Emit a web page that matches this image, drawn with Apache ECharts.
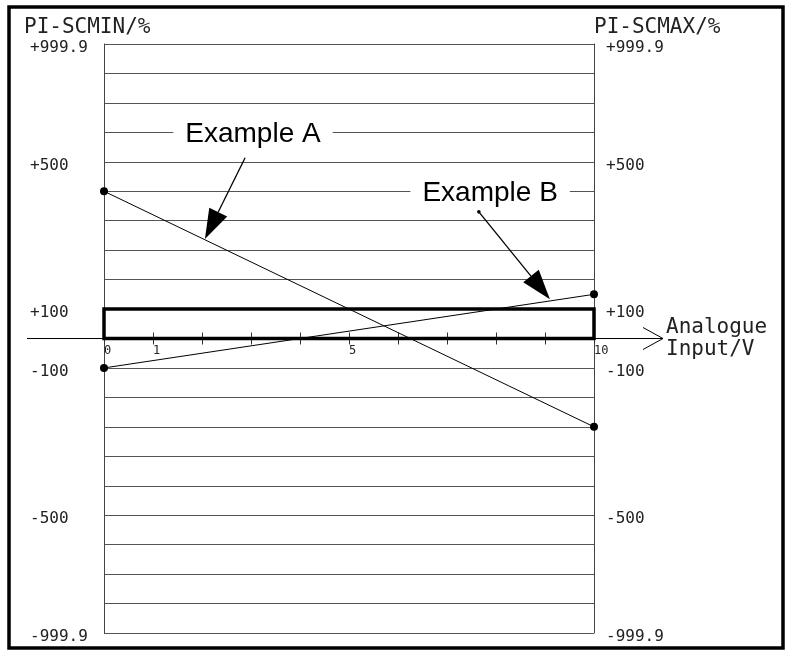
<!DOCTYPE html>
<html><head><meta charset="utf-8">
<script src="https://cdn.jsdelivr.net/npm/echarts@6/dist/echarts.min.js"></script>
<style>html,body{margin:0;padding:0;background:#fff}#c{width:789px;height:660px}</style>
</head><body><div id="c"></div>
<script>
// ---- data ----
const xMin = 0, xMax = 10;                 // Analogue Input / V
const levelMin = -10, levelMax = 10;       // schematic scale levels
const yTickLabels = {'10':'+999.9','6':'+500','1':'+100','-1':'-100','-6':'-500','-10':'-999.9'};
const xTickLabels = {'0':'0','1':'1','5':'5','10':'10'};
const exampleA = [[0, 5], [10, -3]];
const exampleB = [[0, -1], [10, 1.5]];
const bandRect = [[0, 0, 10, 1]];
const annotNames = ['Example A', 'Example B'];
const annotAnchors = [[3.04, 7], [7.88, 5]];
const arrowA = [2.88, 6.14, 2.06, 3.38];   // tail x,y -> head x,y
const arrowB = [7.65, 4.30, 9.10, 1.33];

const CAD = "'DejaVu Sans Mono', monospace";
const chart = echarts.init(document.getElementById('c'), null, {renderer:'canvas'});

function renderArrow(params, api){
  const t = api.coord([api.value(0), api.value(1)]);
  const h = api.coord([api.value(2), api.value(3)]);
  const dx = h[0]-t[0], dy = h[1]-t[1], L = Math.hypot(dx, dy);
  const ux = dx/L, uy = dy/L, px = -uy, py = ux;
  const hl = 30, hw = 10;
  const bx = h[0]-ux*hl, by = h[1]-uy*hl;
  const ch = [
    {type:'line', shape:{x1:t[0], y1:t[1], x2:bx, y2:by}, style:{stroke:'#000', lineWidth:1.3}},
    {type:'polygon', shape:{points:[[h[0],h[1]],[bx+px*hw,by+py*hw],[bx-px*hw,by-py*hw]]}, style:{fill:'#000'}}
  ];
  if (params.dataIndex === 1) ch.push({type:'circle', shape:{cx:t[0], cy:t[1], r:1.8}, style:{fill:'#000'}});
  return {type:'group', children: ch};
}

const yLabelStyle = {fontFamily:CAD, fontSize:16, color:'#222', align:'left', verticalAlign:'top', lineHeight:8,
  showMinLabel:true, showMaxLabel:true, formatter: v => yTickLabels[String(v)] || ''};

const option = {
  animation: false,
  backgroundColor: '#fff',
  title: [
    {text:'PI-SCMIN/%', left:19, top:12, textStyle:{fontFamily:CAD, fontSize:21, fontWeight:'normal', color:'#222'}},
    {text:'PI-SCMAX/%', left:589, top:12, textStyle:{fontFamily:CAD, fontSize:21, fontWeight:'normal', color:'#222'}}
  ],
  grid: {left:104, right:195, top:44, bottom:27, containLabel:false, outerBoundsMode:'none'},
  xAxis: [
    {type:'value', min:xMin, max:xMax, interval:1, position:'bottom', offset:0,
     axisLine:{onZero:false, lineStyle:{color:'#000', width:1}},
     axisTick:{show:true, length:6, lineStyle:{color:'#333'}},
     axisLabel:{show:true, margin:6, align:'left', fontFamily:CAD, fontSize:12, color:'#222',
       showMinLabel:true, showMaxLabel:true, hideOverlap:false,
       formatter: v => xTickLabels[String(v)] || ''},
     splitLine:{show:false},
     name:'Analogue\nInput/V', nameLocation:'end', nameGap:72,
     nameTextStyle:{fontFamily:CAD, fontSize:21, color:'#222', align:'left', verticalAlign:'middle', lineHeight:22}
    },
    {type:'value', min:xMin, max:xMax, interval:1, position:'top', offset:0,
     axisLine:{onZero:false, lineStyle:{color:'#000', width:1}},
     axisTick:{show:true, length:6, lineStyle:{color:'#333'}},
     axisLabel:{show:false}, splitLine:{show:false}}
  ],
  yAxis: [
    {type:'value', min:levelMin, max:levelMax, interval:1, position:'left',
     axisLine:{show:true, onZero:false, lineStyle:{color:'#444'}},
     axisTick:{show:false},
     axisLabel:Object.assign({margin:74}, yLabelStyle),
     splitLine:{show:true, lineStyle:{color:'#555', width:1}}
    },
    {type:'value', min:levelMin, max:levelMax, interval:1, position:'right',
     axisLine:{show:true, onZero:false, lineStyle:{color:'#444'}},
     axisTick:{show:false},
     axisLabel:Object.assign({margin:12}, yLabelStyle),
     splitLine:{show:false}
    }
  ],
  series: [
    {type:'line', name:'Example A', data:exampleA, symbol:'circle', symbolSize:8, z:5,
     lineStyle:{color:'#000', width:1}, itemStyle:{color:'#000'}},
    {type:'line', name:'Example B', data:exampleB, symbol:'circle', symbolSize:8, z:5,
     lineStyle:{color:'#000', width:1}, itemStyle:{color:'#000'}},
    {type:'custom', name:'band', data:bandRect, encode:{x:[0,2], y:[1,3]}, z:4,
     renderItem:(p, api) => {
       const a = api.coord([api.value(0), api.value(1)]);
       const b = api.coord([api.value(2), api.value(3)]);
       return {type:'rect', shape:{x:Math.min(a[0],b[0]), y:Math.min(a[1],b[1]), width:Math.abs(b[0]-a[0]), height:Math.abs(b[1]-a[1])},
               style:{fill:'none', stroke:'#000', lineWidth:3.5}};
     }},
    {type:'custom', name:'arrows', data:[arrowA, arrowB], encode:{x:[0,2], y:[1,3]}, z:6, renderItem:renderArrow},
    {type:'custom', name:'labels', data:annotAnchors.map((a,i)=>[a[0],a[1],i]), encode:{x:0, y:1}, z:7,
     renderItem:(p, api) => {
       const c = api.coord([api.value(0), api.value(1)]);
       return {type:'text', x:c[0], y:c[1]+2,
         style:{text:annotNames[api.value(2)], fontFamily:"'Liberation Sans', Arial, sans-serif", fontSize:28,
                fill:'#000', align:'center', verticalAlign:'middle', backgroundColor:'#fff', padding:[2,12]}};
     }}
  ]
};
chart.setOption(option);

// place the two x axes (ticks down / ticks up) on the zero level, via the library's scale
const p0 = chart.convertToPixel({gridIndex:0}, [xMin, 0]);
const p1 = chart.convertToPixel({gridIndex:0}, [xMax, 0]);
const pBot = chart.convertToPixel({gridIndex:0}, [xMin, levelMin]);
const pTop = chart.convertToPixel({gridIndex:0}, [xMin, levelMax]);
chart.setOption({
  xAxis: [{offset: -(pBot[1] - p0[1])}, {offset: -(p0[1] - pTop[1])}],
  graphic: [
    {type:'rect', shape:{x:9, y:7, width:774, height:641}, style:{fill:'none', stroke:'#000', lineWidth:3.5}, z:100},
    {type:'line', shape:{x1:p0[0]-77, y1:p0[1], x2:p0[0], y2:p0[1]}, style:{stroke:'#000', lineWidth:1}},
    {type:'line', shape:{x1:p1[0], y1:p1[1], x2:p1[0]+69, y2:p1[1]}, style:{stroke:'#000', lineWidth:1}},
    {type:'polyline', shape:{points:[[p1[0]+49, p1[1]-11],[p1[0]+69, p1[1]],[p1[0]+49, p1[1]+11]]}, style:{stroke:'#000', lineWidth:1, fill:'none'}}
  ]
});
</script>
</body></html>
